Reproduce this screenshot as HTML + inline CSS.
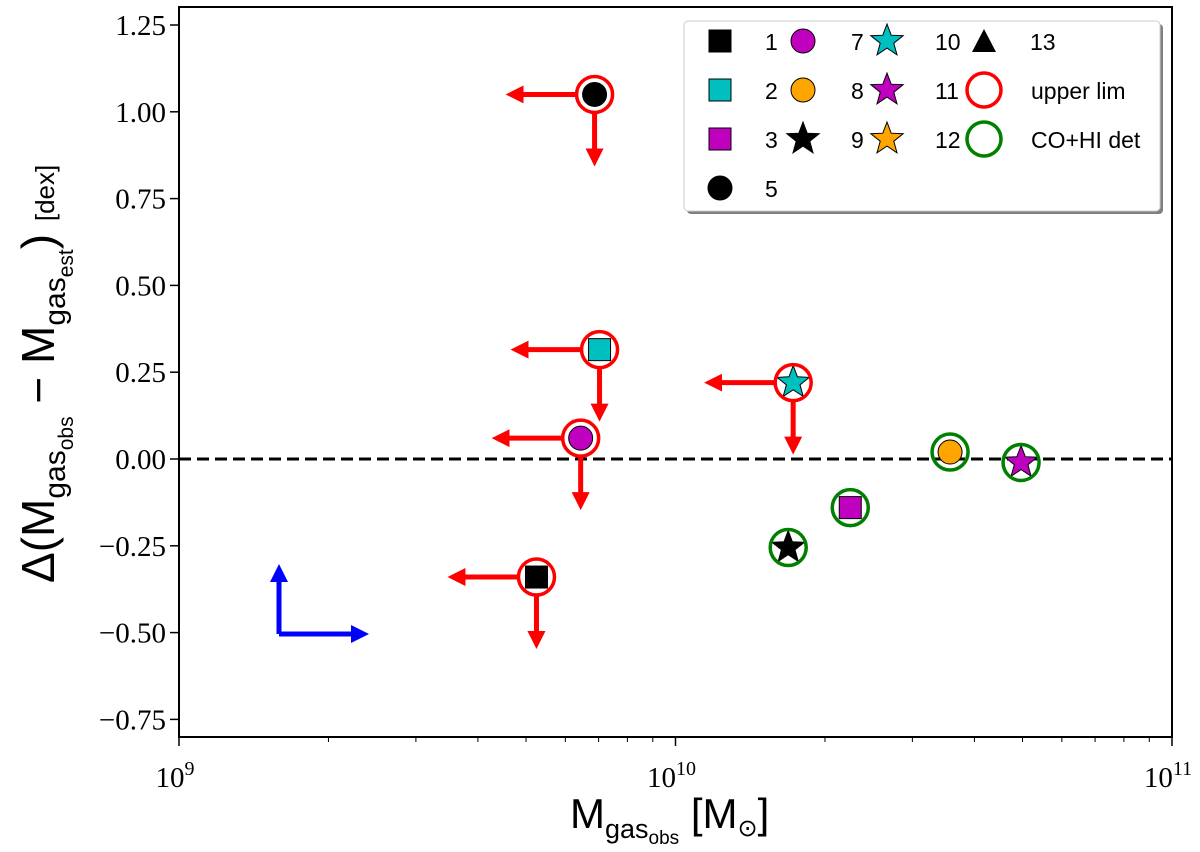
<!DOCTYPE html>
<html><head><meta charset="utf-8"><style>
html,body{margin:0;padding:0;background:#fff;}
svg text{font-family:"Liberation Sans",sans-serif;}
.tk{font-family:"Liberation Serif",serif;font-size:29px;}
</style></head><body>
<svg id="chart" width="1200" height="847" xmlns="http://www.w3.org/2000/svg">
<defs>
<marker id="ar" viewBox="0 0 10 10" refX="5" refY="5" markerWidth="3.6" markerHeight="3.6" orient="auto"><path d="M0,0 L10,5 L0,10 z" fill="#ff0000"/></marker>
<marker id="ab" viewBox="0 0 10 10" refX="5" refY="5" markerWidth="3.6" markerHeight="3.6" orient="auto"><path d="M0,0 L10,5 L0,10 z" fill="#0000ff"/></marker>
</defs>
<g id="axes"></g>
<g id="marks"></g>
<g id="legend"></g>
</svg>
<script>
const logX = [9.720, 9.809, 9.837, 9.847, 10.237, 10.227, 10.352, 10.553, 10.696];
const dY = [-0.34, 0.06, 1.05, 0.315, 0.22, -0.255, -0.14, 0.02, -0.01];
const shapes = ['square','circle','circle','square','star','star','square','circle','star'];
const fills = ['#000000','#bf00bf','#000000','#00bfbf','#00bfbf','#000000','#bf00bf','#ffa500','#bf00bf'];
const kinds = ['upper','upper','upper','upper','upper','det','det','det','det'];
const yTicks = [1.25,1.00,0.75,0.50,0.25,0.00,-0.25,-0.50,-0.75];
const yTickLabels = ['1.25','1.00','0.75','0.50','0.25','0.00','\u22120.25','\u22120.50','\u22120.75'];
const xDecades = [9,10,11];

const L=179,R=1172,T=7,B=737;
const xs=v=>L+(v-9)/2*(R-L);
const ys=v=>459-(v)*347.2;
const NS='http://www.w3.org/2000/svg';
function mk(tag,attrs,parent){const e=document.createElementNS(NS,tag);for(const k in attrs)e.setAttribute(k,attrs[k]);parent.appendChild(e);return e;}
const ax=document.getElementById('axes'), mg=document.getElementById('marks'), lg=document.getElementById('legend');

let fr=mk('rect',{x:L,y:T,width:R-L,height:B-T,fill:'none',stroke:'#000','stroke-width':2},ax);


yTicks.forEach((v,i)=>{
 let t=mk('line',{x1:L-9,x2:L,y1:ys(v),y2:ys(v),stroke:'#000','stroke-width':1.5},ax);
 
 
 let tx=mk('text',{x:L-13,y:ys(v)+10,'text-anchor':'end',class:'tk'},ax);
 tx.textContent=yTickLabels[i];
 
 
});
xDecades.forEach(d=>{
 let t=mk('line',{x1:xs(d),x2:xs(d),y1:B,y2:B+9,stroke:'#000','stroke-width':1.5},ax);
 
 
 let tx=mk('text',{x:xs(d)-4,y:B+50,'text-anchor':'middle',class:'tk'},ax);
 tx.innerHTML='10<tspan dy="-12" font-size="20">'+d+'</tspan>';
 
 
 if(d<11){for(let m=2;m<10;m++){let mt=mk('line',{x1:xs(d+Math.log10(m)),x2:xs(d+Math.log10(m)),y1:B,y2:B+5,stroke:'#000','stroke-width':1},ax);
  
  }}
});
let zl=mk('line',{x1:L,x2:R,y1:ys(0),y2:ys(0),stroke:'#000','stroke-width':3,'stroke-dasharray':'12,6'},ax);



let xt=mk('text',{x:570,y:828,'font-size':42},ax);
xt.innerHTML='M<tspan y="838" font-size="27">gas</tspan><tspan y="844" font-size="19">obs</tspan><tspan y="828"> [M</tspan><tspan y="836" font-family="DejaVu Sans" font-size="24">\u2299</tspan><tspan y="828">]</tspan>';


let yt=mk('text',{x:-583,y:54,'font-size':46,transform:'rotate(-90)'},ax);
yt.innerHTML='\u0394(M<tspan y="65" font-size="30">gas</tspan><tspan y="73" font-size="21">obs</tspan><tspan y="54"> \u2212 M</tspan><tspan y="65" font-size="30">gas</tspan><tspan y="73" font-size="21">est</tspan><tspan y="54">) </tspan><tspan y="54" font-size="26">[dex]</tspan>';



function starPts(cx,cy,r){let p=[];for(let i=0;i<10;i++){let rr=i%2?r*0.42:r;let a=-Math.PI/2+i*Math.PI/5;p.push((cx+rr*Math.cos(a)).toFixed(1)+','+(cy+rr*Math.sin(a)).toFixed(1));}return p.join(' ');}
function marker(shape,cx,cy,fill,parent,s){
 s=s||1;
 if(shape==='square')return mk('rect',{x:cx-11*s,y:cy-11*s,width:22*s,height:22*s,fill:fill,stroke:'#000','stroke-width':1},parent);
 if(shape==='circle')return mk('circle',{cx:cx,cy:cy,r:12*s,fill:fill,stroke:'#000','stroke-width':1},parent);
 if(shape==='star')return mk('polygon',{points:starPts(cx,cy,17*s),fill:fill,stroke:'#000','stroke-width':1},parent);
 if(shape==='tri')return mk('polygon',{points:`${cx},${cy-12} ${cx+12},${cy+11} ${cx-12},${cy+11}`,fill:fill},parent);
}
let bx=279,by=634;
let b1=mk('line',{x1:bx,y1:by,x2:bx,y2:573,stroke:'#0000ff','stroke-width':5,'marker-end':'url(#ab)'},mg);


let b2=mk('line',{x1:bx,y1:by,x2:360,y2:by,stroke:'#0000ff','stroke-width':5,'marker-end':'url(#ab)'},mg);



logX.forEach((lx,i)=>{
 const cx=xs(lx),cy=ys(dY[i]);
 if(kinds[i]==='upper'){
  let a1=mk('line',{x1:cx-18,y1:cy,x2:cx-80,y2:cy,stroke:'#ff0000','stroke-width':5,'marker-end':'url(#ar)'},mg);
  
  
  let a2=mk('line',{x1:cx,y1:cy+18,x2:cx,y2:cy+63,stroke:'#ff0000','stroke-width':5,'marker-end':'url(#ar)'},mg);
  
  
 }
 let m=marker(shapes[i],cx,cy,fills[i],mg);
 
 
 let ring=mk('circle',{cx:cx,cy:cy,r:18,fill:'none',stroke:kinds[i]==='upper'?'#ff0000':'#008000','stroke-width':3.5},mg);
 
 
});

let sh=mk('rect',{x:687,y:24,width:476,height:190,rx:4,fill:'#808080'},lg);


let box=mk('rect',{x:684,y:21,width:476,height:190,rx:4,fill:'#fff',stroke:'#ccc','stroke-width':1},lg);


const legItems=[
 ['square','#000000',720,41,'1',765],['circle','#bf00bf',803,41,'7',851],['star','#00bfbf',887,41,'10',935],['tri','#000000',984,41,'13',1030],
 ['square','#00bfbf',720,90,'2',765],['circle','#ffa500',803,90,'8',851],['star','#bf00bf',887,90,'11',935],['ring-red','',984,90,'upper lim',1031],
 ['square','#bf00bf',720,139,'3',765],['star','#000000',803,139,'9',851],['star','#ffa500',887,139,'12',935],['ring-green','',984,139,'CO+HI det',1031],
 ['circle','#000000',720,188,'5',765]];
legItems.forEach(it=>{
 let m;
 if(it[0].startsWith('ring')) m=mk('circle',{cx:it[2],cy:it[3],r:17,fill:'none',stroke:it[0]==='ring-red'?'#ff0000':'#008000','stroke-width':3.5},lg);
 else m=marker(it[0],it[2],it[3],it[1],lg);
 
 
 let t=mk('text',{x:it[5],y:it[3]+9,'font-size':23},lg);
 t.textContent=it[4];
 
 
});
</script>
</body></html>
